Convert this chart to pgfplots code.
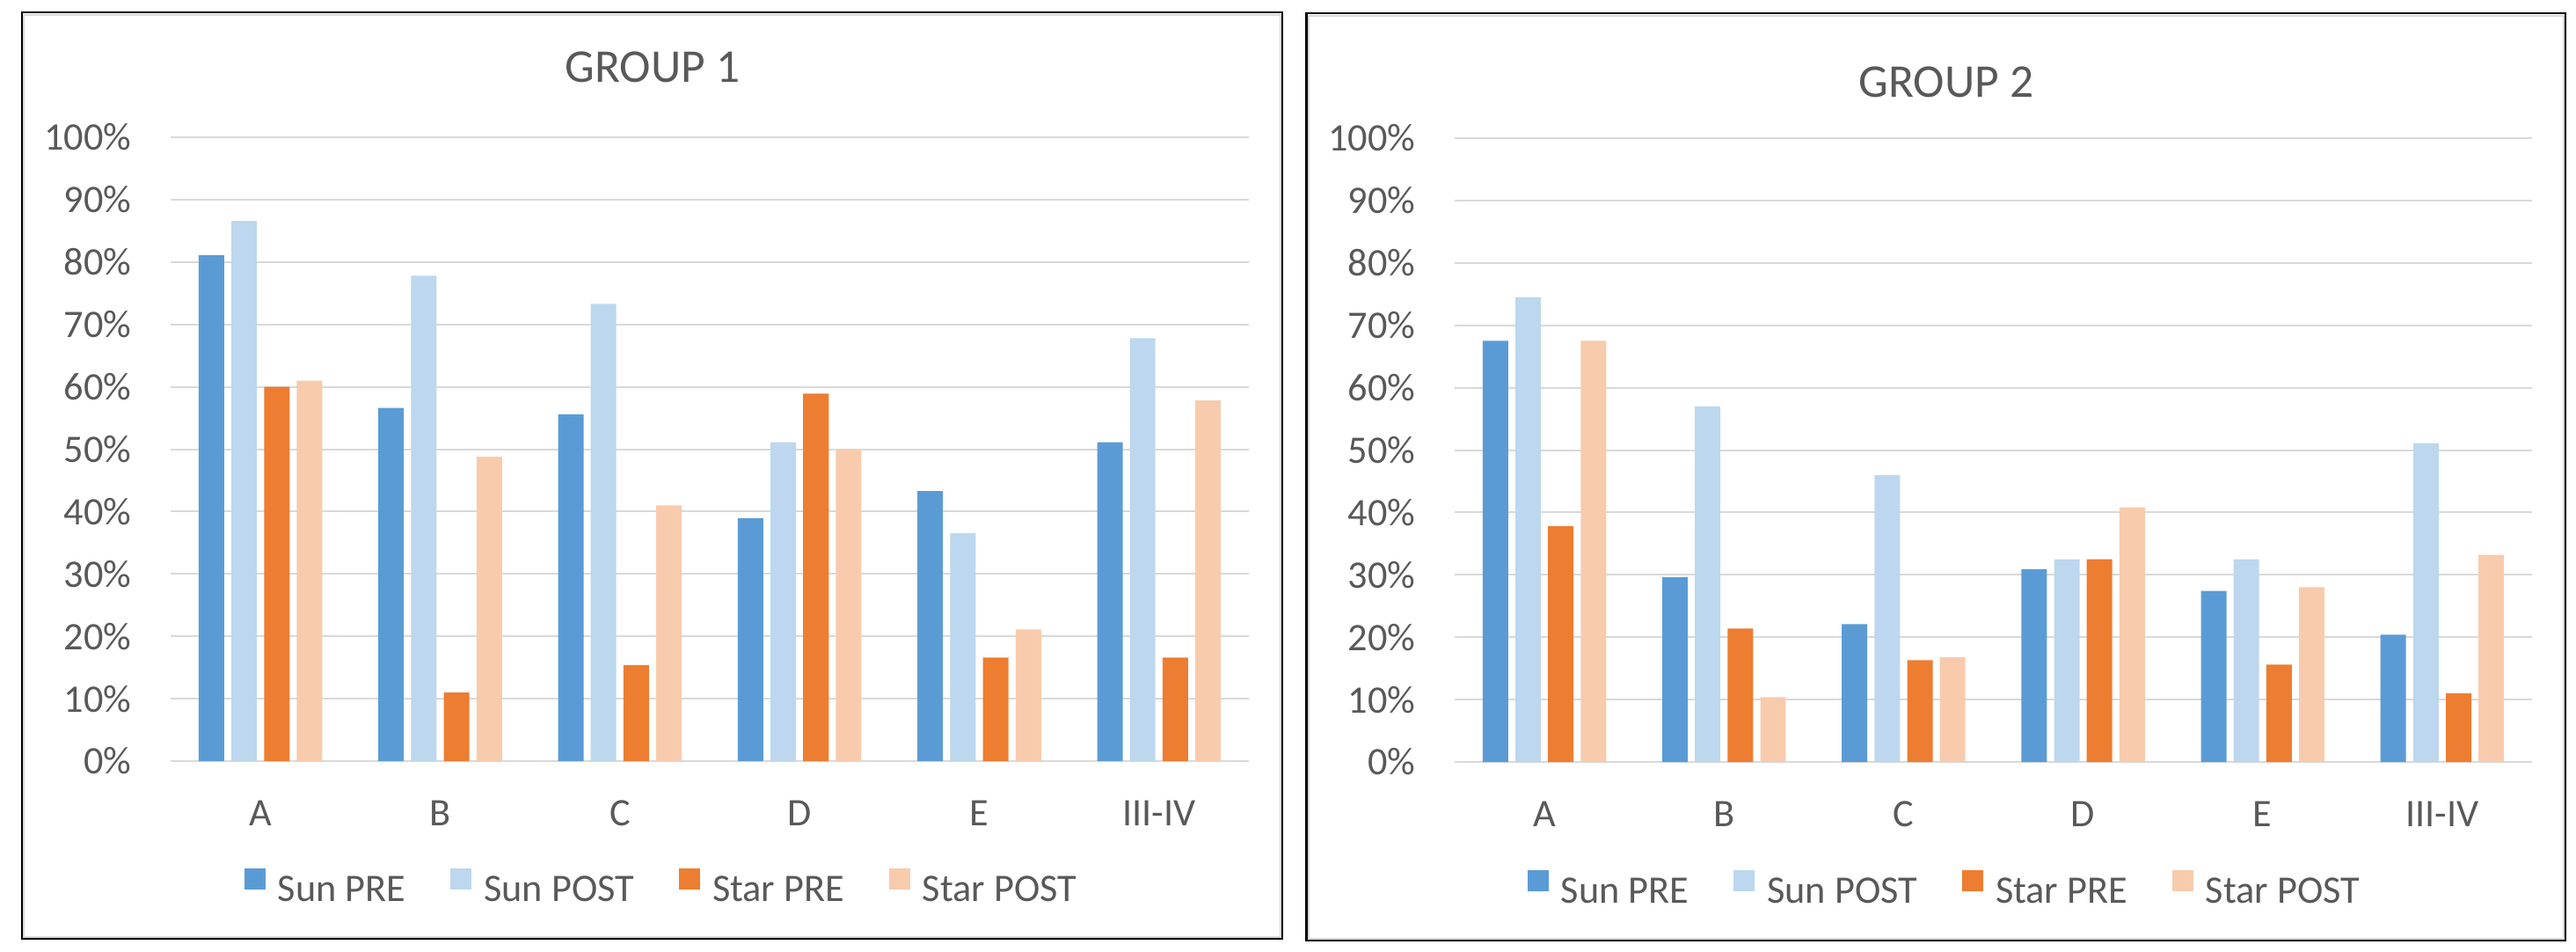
\documentclass[border=0pt]{standalone}
\usepackage{fontspec}
\setmainfont{Carlito}
\usepackage{pgfplots}
\usepackage{pgfplotstable}
\pgfplotsset{compat=1.18}
\definecolor{SunPre}{HTML}{5B9BD5}
\definecolor{SunPost}{HTML}{BDD7EE}
\definecolor{StarPre}{HTML}{ED7D31}
\definecolor{StarPost}{HTML}{F8CBAD}
\definecolor{gridgray}{HTML}{D9D9D9}
\definecolor{txtgray}{HTML}{595959}

\pgfplotstableread{
x sunpre sunpost starpre starpost
0 81.1 86.6 60.0 61.0
1 56.6 77.8 11.0 48.8
2 55.6 73.3 15.4 41.0
3 38.9 51.1 58.9 50.0
4 43.3 36.5 16.6 21.1
5 51.1 67.8 16.6 57.8
}\groupone

\pgfplotstableread{
x sunpre sunpost starpre starpost
0 67.5 74.5 37.8 67.5
1 29.6 57.0 21.4 10.4
2 22.1 46.0 16.3 16.8
3 30.9 32.5 32.5 40.8
4 27.4 32.5 15.6 28.0
5 20.4 51.1 11.0 33.2
}\grouptwo

\pgfplotsset{
  excel/.style={
    scale only axis, width=12.26cm, height=7.09cm,
    anchor=south west,
    xmin=-0.5, xmax=5.5, ymin=0, ymax=100,
    enlargelimits=false,
    xtick={0,...,5}, xticklabels={A,B,C,D,E,III-IV},
    ytick={0,10,...,100},
    yticklabels={0\%,10\%,20\%,30\%,40\%,50\%,60\%,70\%,80\%,90\%,100\%},
    axis line style={draw=none}, major tick length=0pt,
    ymajorgrids, grid style={line width=0.02cm, color=gridgray},
    tick label style={font=\fontsize{12.6}{15}\selectfont, text=txtgray, inner sep=0pt},
    yticklabel style={anchor=east, xshift=-0.44cm},
    xticklabel style={anchor=base, yshift=-0.73cm},
    legend columns=4,
    legend style={draw=none, fill=none, inner sep=0pt, outer sep=0pt,
      anchor=center, font=\fontsize{12.6}{15}\selectfont, text=txtgray,
      nodes={inner sep=0pt},
      /tikz/every odd column/.append style={column sep=0.14cm},
      /tikz/every even column/.append style={column sep=0.51cm}},
  },
  sqlegend/.style={legend image code/.code={\fill[##1] (0cm,0.02cm) rectangle (0.24cm,0.26cm);}},
  b1/.style={ybar, bar width=0.142, bar shift=-0.273, fill=SunPre, draw=none, sqlegend},
  b2/.style={ybar, bar width=0.142, bar shift=-0.091, fill=SunPost, draw=none, sqlegend},
  b3/.style={ybar, bar width=0.142, bar shift=0.091, fill=StarPre, draw=none, sqlegend},
  b4/.style={ybar, bar width=0.142, bar shift=0.273, fill=StarPost, draw=none, sqlegend},
}

\begin{document}
\begin{tikzpicture}
\path[use as bounding box] (0,0) rectangle (29.29cm,10.81cm);

% frames
\draw[gridgray, line width=0.02cm] (0.275cm,0.165cm) rectangle (14.555cm,10.645cm);
\draw[black, line width=0.025cm] (0.25cm,0.14cm) rectangle (14.58cm,10.67cm);
\draw[gridgray, line width=0.02cm] (14.88cm,0.145cm) rectangle (29.145cm,10.635cm);
\draw[black, line width=0.025cm] (14.855cm,0.12cm) rectangle (29.17cm,10.66cm);

% titles
\node[anchor=base, inner sep=0pt, text=txtgray, font=\fontsize{15.2}{18}\selectfont] at (7.42cm,9.88cm) {GROUP 1};
\node[anchor=base, inner sep=0pt, text=txtgray, font=\fontsize{15.2}{18}\selectfont] at (22.13cm,9.71cm) {GROUP 2};

\begin{axis}[excel, at={(1.94cm,2.16cm)}, legend style={at={(0.4543,-0.2017)}}]
\addplot[b1] table[x=x, y=sunpre] {\groupone};
\addplot[b2] table[x=x, y=sunpost] {\groupone};
\addplot[b3] table[x=x, y=starpre] {\groupone};
\addplot[b4] table[x=x, y=starpost] {\groupone};
\legend{Sun PRE, Sun POST, Star PRE, Star POST}
\end{axis}

\begin{axis}[excel, at={(16.54cm,2.15cm)}, width=12.25cm, legend style={at={(0.4539,-0.2031)}}]
\addplot[b1] table[x=x, y=sunpre] {\grouptwo};
\addplot[b2] table[x=x, y=sunpost] {\grouptwo};
\addplot[b3] table[x=x, y=starpre] {\grouptwo};
\addplot[b4] table[x=x, y=starpost] {\grouptwo};
\legend{Sun PRE, Sun POST, Star PRE, Star POST}
\end{axis}
\end{tikzpicture}
\end{document}
